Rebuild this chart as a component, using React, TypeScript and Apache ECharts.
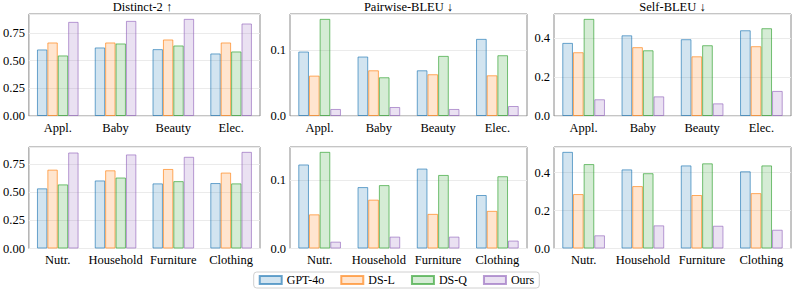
import React, { useEffect, useRef } from 'react';
import * as echarts from 'echarts';

const MODELS = ['GPT-4o', 'DS-L', 'DS-Q', 'Ours'];
const CATS_TOP = ['Appl.', 'Baby', 'Beauty', 'Elec.'];
const CATS_BOTTOM = ['Nutr.', 'Household', 'Furniture', 'Clothing'];
const METRICS = ['Distinct-2 ↑', 'Pairwise-BLEU ↓', 'Self-BLEU ↓'];

// rows: GPT-4o, DS-L, DS-Q, Ours ; columns follow the categories
const DISTINCT_TOP = [
  [0.600, 0.618, 0.603, 0.564],
  [0.663, 0.663, 0.690, 0.663],
  [0.546, 0.654, 0.636, 0.582],
  [0.849, 0.858, 0.876, 0.834],
];
const PAIRWISE_TOP = [
  [0.098, 0.0904, 0.0695, 0.1173],
  [0.0614, 0.0695, 0.0635, 0.0619],
  [0.1477, 0.0589, 0.0914, 0.0924],
  [0.0107, 0.0137, 0.0107, 0.0152],
];
const SELF_TOP = [
  [0.376, 0.415, 0.395, 0.441],
  [0.328, 0.354, 0.307, 0.359],
  [0.4996, 0.338, 0.364, 0.4515],
  [0.086, 0.101, 0.065, 0.129],
];
const DISTINCT_BOTTOM = [
  [0.534, 0.604, 0.578, 0.581],
  [0.700, 0.694, 0.706, 0.674],
  [0.569, 0.630, 0.598, 0.578],
  [0.852, 0.835, 0.814, 0.858],
];
const PAIRWISE_BOTTOM = [
  [0.123, 0.0899, 0.117, 0.0783],
  [0.050, 0.0715, 0.0507, 0.0551],
  [0.1415, 0.0928, 0.1077, 0.1058],
  [0.010, 0.0174, 0.0174, 0.0116],
];
const SELF_BOTTOM = [
  [0.5096, 0.417, 0.438, 0.407],
  [0.287, 0.329, 0.282, 0.292],
  [0.445, 0.397, 0.449, 0.438],
  [0.0696, 0.122, 0.120, 0.099],
];

const Y_INTERVALS = [0.25, 0.1, 0.2];
const Y_DECIMALS = [2, 1, 1];

const BASE_RGB = ['31,119,180', '255,127,14', '44,160,44', '148,103,189'];

const FONT = 'Liberation Serif';

export default function App() {
  const ref = useRef<HTMLDivElement>(null);

  useEffect(() => {
    if (!ref.current) return;
    const chart = echarts.init(ref.current, null, { renderer: 'svg' });

    const panels = [
      { data: DISTINCT_TOP, cats: CATS_TOP, row: 0, col: 0 },
      { data: PAIRWISE_TOP, cats: CATS_TOP, row: 0, col: 1 },
      { data: SELF_TOP, cats: CATS_TOP, row: 0, col: 2 },
      { data: DISTINCT_BOTTOM, cats: CATS_BOTTOM, row: 1, col: 0 },
      { data: PAIRWISE_BOTTOM, cats: CATS_BOTTOM, row: 1, col: 1 },
      { data: SELF_BOTTOM, cats: CATS_BOTTOM, row: 1, col: 2 },
    ];

    const colLefts = [25, 290, 554];
    const colWidths = [235, 237, 237];
    const rowTops = [14, 147];
    const rowHeights = [102, 101.5];

    const grids: any[] = [];
    const xAxes: any[] = [];
    const yAxes: any[] = [];
    const series: any[] = [];

    panels.forEach((p, i) => {
      grids.push({
        left: colLefts[p.col],
        top: rowTops[p.row],
        width: colWidths[p.col],
        height: rowHeights[p.row],
        show: true,
        borderColor: '#8a8a8a',
        borderWidth: 1,
        backgroundColor: 'transparent',
      });
      xAxes.push({
        type: 'category',
        gridIndex: i,
        data: p.cats,
        axisLine: { show: false },
        axisTick: { show: false },
        axisLabel: {
          fontFamily: FONT,
          fontSize: 12.5,
          color: '#000',
          margin: 5,
          interval: 0,
          hideOverlap: false,
        },
      });
      const maxVal = Math.max(...p.data.flat()) * 1.05;
      const dec = Y_DECIMALS[p.col];
      yAxes.push({
        type: 'value',
        gridIndex: i,
        min: 0,
        max: maxVal,
        interval: Y_INTERVALS[p.col],
        axisLine: { show: false },
        axisTick: { show: false },
        splitLine: { show: true, lineStyle: { color: '#ebebeb', width: 1 } },
        axisLabel: {
          fontFamily: FONT,
          fontSize: 12.5,
          color: '#000',
          margin: 4,
          showMaxLabel: false,
          formatter: (v: number) => v.toFixed(dec),
        },
      });
      p.data.forEach((vals, m) => {
        series.push({
          type: 'bar',
          name: MODELS[m],
          xAxisIndex: i,
          yAxisIndex: i,
          data: vals,
          barGap: '0%',
          barCategoryGap: '28%',
          itemStyle: {
            color: `rgba(${BASE_RGB[m]},0.2)`,
            borderColor: `rgba(${BASE_RGB[m]},0.65)`,
            borderWidth: 1,
          },
          emphasis: { disabled: true },
        });
      });
    });

    const titles = METRICS.map((t, c) => ({
      text: t,
      left: colLefts[c] + colWidths[c] / 2,
      top: 0,
      padding: 0,
      textAlign: 'center',
      textStyle: { fontFamily: FONT, fontSize: 12.5, fontWeight: 'normal', color: '#000' },
    }));

    chart.setOption({
      animation: false,
      backgroundColor: '#fff',
      textStyle: { fontFamily: FONT },
      title: titles,
      grid: grids,
      xAxis: xAxes,
      yAxis: yAxes,
      series,
      legend: {
        data: MODELS,
        left: 'center',
        top: 272,
        itemWidth: 22,
        itemHeight: 8,
        itemGap: 16,
        padding: [2, 5],
        borderColor: '#d0d0d0',
        borderWidth: 1,
        borderRadius: 3,
        textStyle: { fontFamily: FONT, fontSize: 12, color: '#000' },
        icon: 'rect',
      },
    });

    return () => chart.dispose();
  }, []);

  return (
    <div
      ref={ref}
      style={{ position: 'fixed', left: 0, top: 0, width: 793, height: 292 }}
    />
  );
}
